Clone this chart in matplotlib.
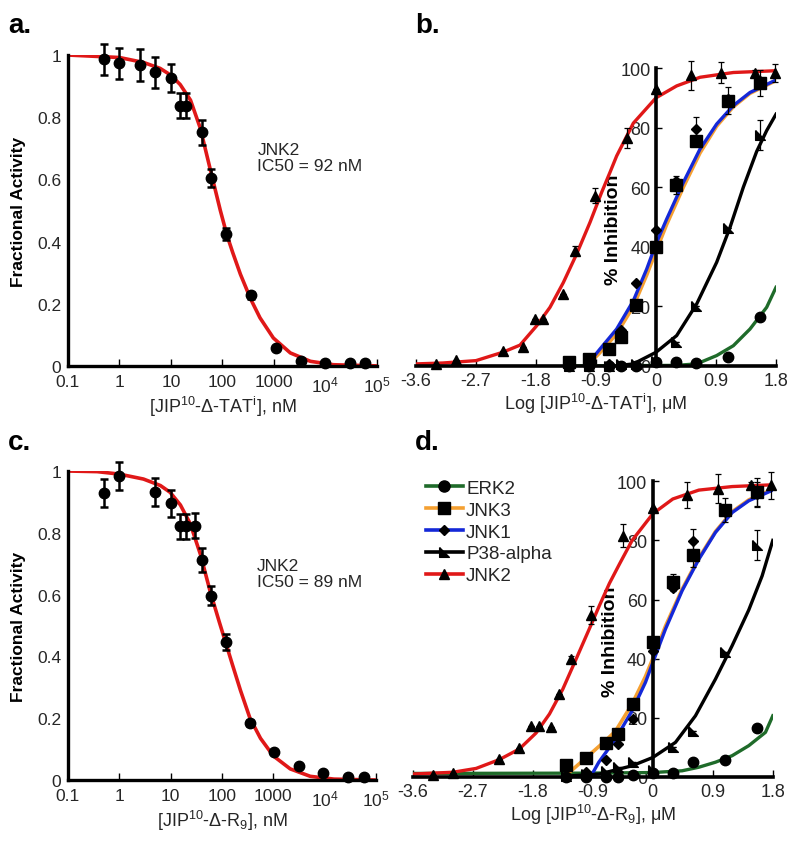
import matplotlib
matplotlib.use('Agg')
import matplotlib.pyplot as plt
import numpy as np
from matplotlib.lines import Line2D

plt.rcParams['font.family'] = ['Liberation Sans', 'DejaVu Sans']
plt.rcParams['mathtext.fontset'] = 'custom'
plt.rcParams['mathtext.rm'] = 'Liberation Sans'
plt.rcParams['mathtext.it'] = 'Liberation Sans:italic'
plt.rcParams['mathtext.bf'] = 'Liberation Sans:bold'

# ---- panel a: JIP10-delta-TATi vs JNK2 (nM) ----
a_conc = [0.5, 1, 2.5, 5, 10, 15, 20, 40, 60, 120, 360, 1100, 3300, 10000, 30000, 60000]
a_act = [0.987, 0.973, 0.968, 0.944, 0.927, 0.837, 0.837, 0.751, 0.605, 0.424, 0.227, 0.059, 0.016, 0.009, 0.009, 0.009]
a_err = [0.05, 0.05, 0.05, 0.05, 0.045, 0.04, 0.04, 0.04, 0.03, 0.02, 0.01, 0.005, 0.005, 0.005, 0.005, 0.005]
a_fit_logx = [-1, 0, 0.47, 0.79, 1.0, 1.18, 1.38, 1.57, 1.76, 1.96, 2.09, 2.2, 2.35, 2.55, 2.73, 2.99, 3.32, 3.71, 4.16, 5]
a_fit_y = [1.0, 0.992, 0.976, 0.957, 0.935, 0.905, 0.855, 0.765, 0.635, 0.50, 0.42, 0.365, 0.295, 0.215, 0.155, 0.09, 0.042, 0.015, 0.004, 0.0003]

# ---- panel c: JIP10-delta-R9 vs JNK2 (nM) ----
c_conc = [0.5, 1, 5, 10, 15, 20, 30, 40, 60, 120, 350, 1050, 3150, 9100, 28000, 58000]
c_act = [0.928, 0.983, 0.931, 0.895, 0.821, 0.821, 0.823, 0.712, 0.597, 0.446, 0.184, 0.092, 0.046, 0.023, 0.011, 0.009]
c_err = [0.045, 0.045, 0.045, 0.045, 0.04, 0.04, 0.04, 0.04, 0.03, 0.025, 0.01, 0.005, 0.005, 0.005, 0.005, 0.005]
c_fit_logx = [-1, -0.43, 0, 0.47, 0.8, 0.99, 1.19, 1.38, 1.58, 1.77, 1.95, 2.08, 2.2, 2.36, 2.545, 2.75, 3.0, 3.33, 3.72, 4.18, 5]
c_fit_y = [1.0, 0.998, 0.99, 0.974, 0.953, 0.931, 0.89, 0.83, 0.73, 0.61, 0.51, 0.44, 0.375, 0.29, 0.2, 0.135, 0.078, 0.036, 0.012, 0.003, 0.0]

# ---- panel b: % inhibition, log uM, JIP10-delta-TATi ----
b_kin_x = [-1.3, -1.0, -0.7, -0.52, -0.3, 0, 0.3, 0.6, 1.08, 1.56]
b_erk2 = [0, 0, 0, 0, 0, 1.5, 1.2, 1.0, 3.0, 16.6]
b_jnk3 = [1.5, 2.2, 5.7, 9.6, 20.5, 40, 60.7, 75.6, 89, 95]
b_jnk3_err = [0, 0, 0, 0, 0, 0, 3, 1, 4.5, 4.5]
b_jnk1 = [0, 0, 0.5, 12, 28, 45.5, 62, 79.5, 89.5, 95.5]
b_jnk1_err = [0, 0, 0, 0, 0, 0, 0, 4, 0, 0]
b_p38 = [0, 0, 0, 0.5, 0.7, 1.8, 7.9, 20.2, 46.3, 77.5]
b_p38_err = [0, 0, 0, 0, 0, 0, 0, 0, 0, 5]
b_jnk2_x = [-3.3, -3.0, -2.3, -2.0, -1.82, -1.7, -1.4, -1.22, -0.92, -0.44, 0, 0.52, 0.98, 1.48, 1.78]
b_jnk2 = [0.8, 1.9, 5.0, 6.5, 15.7, 15.7, 24.3, 38.7, 57.2, 76.5, 93, 97.5, 98.4, 98.4, 98.4]
b_jnk2_err = [0, 0, 0, 0, 0, 0, 0, 1.5, 2.5, 3.5, 0, 5, 3.5, 1, 3]

b_fit_erk2_x = [-1.3, 0.3, 0.61, 0.91, 1.16, 1.41, 1.66, 1.8]
b_fit_erk2_y = [0, 0.2, 0.7, 3.5, 6.8, 12.4, 19.7, 26.4]
b_fit_jnk3_x = [-0.95, -0.84, -0.59, -0.34, -0.14, 0, 0.16, 0.41, 0.66, 0.91, 1.16, 1.41, 1.8]
b_fit_jnk3_y = [2, 4.5, 10.8, 20, 30.5, 38.5, 47.5, 60, 71.5, 80.5, 87, 91.5, 95.8]
b_fit_jnk1_x = [-0.92, -0.84, -0.59, -0.34, -0.14, 0, 0.16, 0.41, 0.66, 0.91, 1.16, 1.41, 1.8]
b_fit_jnk1_y = [3.5, 5.7, 12.4, 21.9, 32.5, 41, 49.3, 61.6, 72.8, 81.2, 87.4, 91.8, 96]
b_fit_p38_x = [-0.5, -0.34, 0, 0.31, 0.61, 0.91, 1.11, 1.31, 1.51, 1.66, 1.8]
b_fit_p38_y = [0.3, 0.7, 4.6, 10.2, 20.8, 34.8, 46.5, 60, 72, 79, 84.5]
b_fit_jnk2_x = [-3.6, -3.2, -2.7, -2.3, -2.04, -1.79, -1.59, -1.39, -1.19, -0.99, -0.815, -0.69, -0.59, -0.34, 0, 0.31, 0.66, 1.16, 1.8]
b_fit_jnk2_y = [0.7, 1.0, 1.8, 4.6, 7, 13.5, 19.7, 28, 37.6, 48.2, 58.3, 65, 70.5, 81.5, 90, 94, 96.9, 98.5, 99.1]

# ---- panel d: % inhibition, log uM, JIP10-delta-R9 ----
d_kin_x = [-1.3, -1.0, -0.7, -0.52, -0.3, 0, 0.3, 0.6, 1.08, 1.57]
d_erk2 = [0, 0, 0, 0, 0.7, 1.4, 1.4, 5.0, 5.9, 16.4]
d_jnk3 = [4.1, 6.3, 11.6, 14.5, 24.7, 45.7, 65.8, 75, 90.3, 96.2]
d_jnk3_err = [0, 0, 0, 0, 0, 0, 3, 4, 4, 5]
d_jnk1 = [0, 1.8, 5.8, 11, 19.7, 42.7, 64, 79.8, 89.5, 95.6]
d_jnk1_err = [0, 0, 0, 0, 0, 0, 0, 4, 0, 4]
d_p38 = [0.5, 1, 2, 3.3, 5, 2.5, 10, 15.7, 42.3, 78.4]
d_p38_err = [0, 0, 0, 0, 0, 0, 0, 0, 0, 5]
d_jnk2_x = [-3.3, -3.0, -2.3, -2.0, -1.82, -1.7, -1.52, -1.4, -1.22, -0.92, -0.44, 0, 0.52, 0.98, 1.48, 1.78]
d_jnk2 = [0.7, 1.4, 6, 9.7, 17.4, 17.1, 17, 28, 39.8, 54.8, 81.6, 90.8, 95.3, 97.5, 98.6, 98.6]
d_jnk2_err = [0, 0, 0, 0, 0, 0, 0, 0, 1, 3, 4, 0, 4.5, 5, 1, 4.5]

d_fit_erk2_x = [-3.6, -1.0, 0, 0.44, 0.69, 0.94, 1.19, 1.44, 1.69, 1.8]
d_fit_erk2_y = [1.2, 1.3, 1.5, 2.1, 3.3, 5, 7.2, 10.6, 15.1, 20.7]
d_fit_jnk3_x = [-1.25, -1.0, -0.7, -0.56, -0.31, -0.11, 0, 0.19, 0.44, 0.69, 0.94, 1.19, 1.44, 1.8]
d_fit_jnk3_y = [1.6, 6.5, 12.5, 15.5, 24.7, 34, 40, 51, 63.5, 74, 83, 89.7, 93.7, 97.3]
d_fit_jnk1_x = [-0.91, -0.81, -0.56, -0.31, -0.11, 0, 0.19, 0.44, 0.69, 0.94, 1.19, 1.44, 1.8]
d_fit_jnk1_y = [1, 5, 12.8, 22.4, 32, 38.7, 50, 63, 73.6, 82.7, 89.4, 93.4, 97]
d_fit_p38_x = [-1.3, -0.8, -0.31, 0, 0.34, 0.64, 0.94, 1.19, 1.44, 1.64, 1.8]
d_fit_p38_y = [0.3, 1, 3.8, 6.6, 11.7, 20.7, 33.1, 44.4, 56.5, 68, 80]
d_fit_jnk2_x = [-3.6, -3.0, -2.65, -2.3, -2.0, -1.75, -1.55, -1.35, -1.15, -0.95, -0.8, -0.65, -0.5, -0.31, 0, 0.3, 0.69, 1.19, 1.8]
d_fit_jnk2_y = [1.0, 1.6, 2.9, 5.9, 9.5, 14.9, 21.3, 29.7, 39.9, 50.2, 58, 65.5, 72, 80, 89, 94, 97, 98.2, 98.8]

kinase_names = ['ERK2', 'JNK3', 'JNK1', 'P38-alpha', 'JNK2']
log_ticks = [-3.6, -2.7, -1.8, -0.9, 0, 0.9, 1.8]

RED = '#e01818'
ORANGE = '#f5a031'
BLUE = '#1428d8'
GREEN = '#1f6b2a'
TXT = '#262626'
p38_marker = [(-1, 1), (-1, -1), (1, -1), (-1, 1)]


def style_conc_axis(ax, conc, act, err, fit_x, fit_y, xlabel, ic50_text):
    ax.plot(10 ** np.array(fit_x), fit_y, color=RED, lw=2.6, zorder=2)
    ax.errorbar(conc, act, yerr=err, fmt='o', color='k', ms=7.5, elinewidth=1.8,
                capsize=3, capthick=1.8, zorder=3, clip_on=False)
    ax.set_xscale('log')
    ax.set_xlim(0.1, 1e5)
    ax.set_ylim(0, 1)
    ax.set_xticks([0.1, 1, 10, 100, 1000, 1e4, 1e5])
    ax.set_xticklabels(['0.1', '1', '10', '100', '1000', '10$^4$', '10$^5$'])
    ax.set_yticks([0, 0.2, 0.4, 0.6, 0.8, 1])
    ax.set_yticklabels(['0', '0.2', '0.4', '0.6', '0.8', '1'])
    for s in ['top', 'right']:
        ax.spines[s].set_visible(False)
    for s in ['left', 'bottom']:
        ax.spines[s].set_linewidth(2.4)
    ax.tick_params(axis='x', which='major', direction='in', length=5, width=1,
                   labelsize=12.5, labelcolor=TXT, pad=6)
    ax.tick_params(axis='x', which='minor', direction='in', length=3, width=0.8)
    ax.tick_params(axis='y', direction='in', length=0, labelsize=12.5, labelcolor=TXT, pad=5)
    ax.set_ylabel('Fractional Activity', fontsize=12.5, fontweight='bold', labelpad=8)
    ax.set_xlabel(xlabel, fontsize=13, color=TXT, labelpad=0)
    ax.text(480, 0.72, ic50_text, fontsize=12.5, color=TXT, va='top', ha='left',
            linespacing=1.1)


def style_log_axis(ax, xlabel):
    ax.set_xlim(-3.6, 1.8)
    ax.set_ylim(0, 100)
    ax.spines['left'].set_position(('data', 0))
    for s in ['top', 'right']:
        ax.spines[s].set_visible(False)
    for s in ['left', 'bottom']:
        ax.spines[s].set_linewidth(2.6)
        ax.spines[s].set_zorder(2.5)
    ax.set_xticks(log_ticks)
    ax.set_xticklabels(['-3.6', '-2.7', '-1.8', '-0.9', '0', '0.9', '1.8'])
    ax.set_yticks([0, 20, 40, 60, 80, 100])
    ax.tick_params(axis='x', direction='in', length=5, width=1, labelsize=13,
                   labelcolor=TXT, pad=4)
    ax.tick_params(axis='y', direction='in', length=4, width=1, labelsize=13,
                   labelcolor=TXT, pad=4)
    ax.set_xlabel(xlabel, fontsize=13, color=TXT, labelpad=2)
    ax.text(-0.64, 46, '% Inhibition', rotation=90, fontsize=14, fontweight='bold',
            ha='center', va='center', zorder=1)


def draw_kinases(ax, kin_x, erk2, jnk3, jnk3_err, jnk1, jnk1_err, p38, p38_err,
                 jnk2_x, jnk2, jnk2_err, fits):
    (ex, ey), (ox, oy), (bx, by), (px, py), (rx, ry) = fits
    ax.plot(ex, ey, color=GREEN, lw=2.4, zorder=2)
    ax.plot(ox, oy, color=ORANGE, lw=2.6, zorder=2)
    ax.plot(bx, by, color=BLUE, lw=2.4, zorder=2)
    ax.plot(px, py, color='k', lw=2.4, zorder=2)
    ax.plot(rx, ry, color=RED, lw=2.4, zorder=2)
    kw = dict(color='k', linestyle='none', elinewidth=0.9, capsize=2.5, capthick=0.9,
              zorder=3, clip_on=False)
    ax.errorbar(kin_x, erk2, fmt='o', ms=7.5, **kw)
    ax.errorbar(kin_x, jnk3, yerr=jnk3_err, fmt='s', ms=8.5, **kw)
    ax.errorbar(kin_x, jnk1, yerr=jnk1_err, fmt='D', ms=5.5, **kw)
    ax.errorbar(kin_x, p38, yerr=p38_err, marker=p38_marker, ms=7, **kw)
    ax.errorbar(jnk2_x, jnk2, yerr=jnk2_err, fmt='^', ms=6.5, **kw)


fig = plt.figure(figsize=(8, 8.45), dpi=100)

ax_a = fig.add_axes([0.085, 0.5657, 0.386, 0.368])
style_conc_axis(ax_a, a_conc, a_act, a_err, a_fit_logx, a_fit_y,
                '[JIP$^{\\mathrm{10}}$-\u0394-TAT$^{\\mathrm{i}}$], nM', 'JNK2\nIC50 = 92 nM')

ax_c = fig.add_axes([0.085, 0.0757, 0.385, 0.3657])
style_conc_axis(ax_c, c_conc, c_act, c_err, c_fit_logx, c_fit_y,
                '[JIP$^{\\mathrm{10}}$-\u0394-R$_{\\mathrm{9}}$], nM', 'JNK2\nIC50 = 89 nM')

ax_b = fig.add_axes([0.52, 0.5657, 0.45, 0.3526])
draw_kinases(ax_b, b_kin_x, b_erk2, b_jnk3, b_jnk3_err, b_jnk1, b_jnk1_err, b_p38, b_p38_err,
             b_jnk2_x, b_jnk2, b_jnk2_err,
             [(b_fit_erk2_x, b_fit_erk2_y), (b_fit_jnk3_x, b_fit_jnk3_y),
              (b_fit_jnk1_x, b_fit_jnk1_y), (b_fit_p38_x, b_fit_p38_y),
              (b_fit_jnk2_x, b_fit_jnk2_y)])
style_log_axis(ax_b, 'Log [JIP$^{\\mathrm{10}}$-\u0394-TAT$^{\\mathrm{i}}$], \u03bcM')

ax_d = fig.add_axes([0.516, 0.0793, 0.45, 0.350])
draw_kinases(ax_d, d_kin_x, d_erk2, d_jnk3, d_jnk3_err, d_jnk1, d_jnk1_err, d_p38, d_p38_err,
             d_jnk2_x, d_jnk2, d_jnk2_err,
             [(d_fit_erk2_x, d_fit_erk2_y), (d_fit_jnk3_x, d_fit_jnk3_y),
              (d_fit_jnk1_x, d_fit_jnk1_y), (d_fit_p38_x, d_fit_p38_y),
              (d_fit_jnk2_x, d_fit_jnk2_y)])
style_log_axis(ax_d, 'Log [JIP$^{\\mathrm{10}}$-\u0394-R$_{\\mathrm{9}}$], \u03bcM')

# legend for panel d
handles = [
    Line2D([], [], color=GREEN, lw=2.6, marker='o', ms=8, mfc='k', mec='k'),
    Line2D([], [], color=ORANGE, lw=2.6, marker='s', ms=8, mfc='k', mec='k'),
    Line2D([], [], color=BLUE, lw=2.6, marker='D', ms=5.5, mfc='k', mec='k'),
    Line2D([], [], color='k', lw=2.6, marker=p38_marker, ms=7, mfc='k', mec='k'),
    Line2D([], [], color=RED, lw=2.6, marker='^', ms=7, mfc='k', mec='k'),
]
leg = ax_d.legend(handles, kinase_names, loc='upper left', bbox_to_anchor=(0.015, 1.03),
                  frameon=False, fontsize=13.5, handlelength=2.0, handletextpad=0.15,
                  labelspacing=0.25, borderaxespad=0)
for t in leg.get_texts():
    t.set_color(TXT)

# panel letters
for lbl, x, y in [('a.', 0.01, 0.961), ('b.', 0.519, 0.961), ('c.', 0.01, 0.4675), ('d.', 0.519, 0.4675)]:
    fig.text(x, y, lbl, fontsize=20, fontweight='bold', va='baseline', ha='left')

fig.savefig('out.png', dpi=100)
